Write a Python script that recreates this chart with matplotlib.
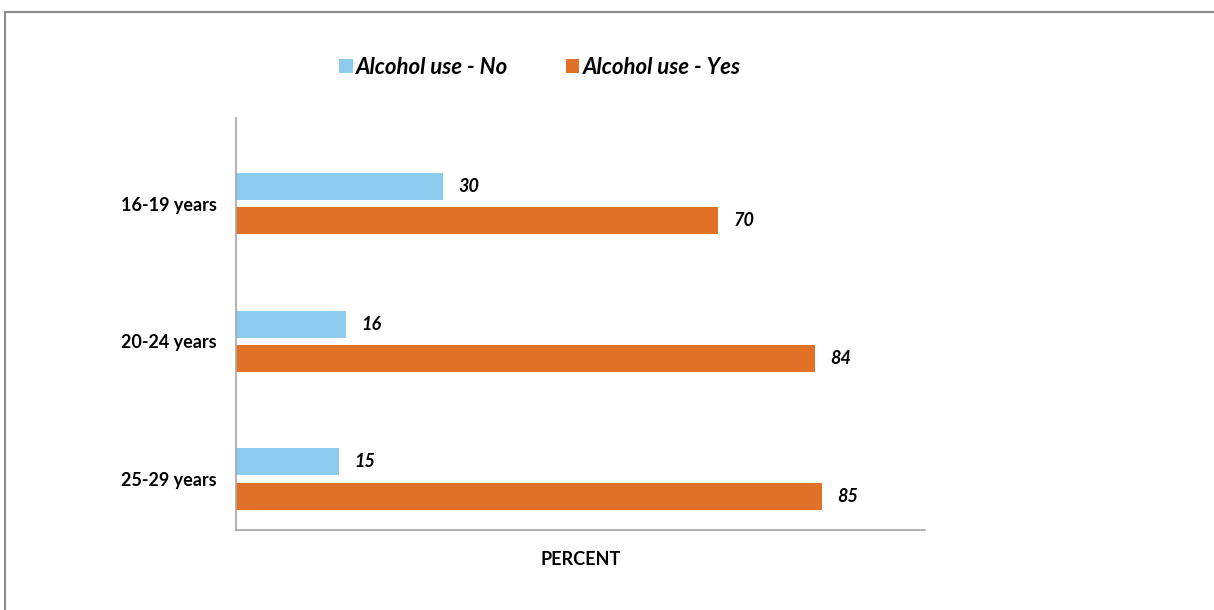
import matplotlib.pyplot as plt
from matplotlib.patches import Rectangle
import numpy as np

plt.rcParams['font.family'] = ['Lato', 'DejaVu Sans']

groups = ['16-19 years', '20-24 years', '25-29 years']
alcohol_no = [30, 16, 15]
alcohol_yes = [70, 84, 85]
series_names = ['Alcohol use - No', 'Alcohol use - Yes']

blue = '#8ECCEF'
orange = '#E07127'

fig = plt.figure(figsize=(12.14, 6.10), dpi=100)
W, H = 1214, 610

# outer chart border (right/bottom edges fall outside the picture)
fig.patches.append(Rectangle((5 / W, 0 - 0.01), 1.1, 1 - 12 / H + 0.01,
                             transform=fig.transFigure, fill=False,
                             edgecolor='#8c8c8c', linewidth=1.5))

ax = fig.add_axes([236 / W, 1 - 530 / H, (925 - 236) / W, (530 - 118) / H])

y = np.arange(len(groups))
h = 0.196
off = 0.124
b1 = ax.barh(y - off, alcohol_no, height=h, color=blue, label=series_names[0])
b2 = ax.barh(y + off, alcohol_yes, height=h, color=orange, label=series_names[1])

for bars, vals in [(b1, alcohol_no), (b2, alcohol_yes)]:
    for bar, v in zip(bars, vals):
        ax.text(v + 2.2, bar.get_y() + bar.get_height() / 2, str(v),
                va='center', ha='left', fontsize=13, fontweight='bold',
                fontstyle='italic')

ax.set_xlim(0, 100)
ax.set_ylim(2 + 51 / 137.5, -85.5 / 137.5)
ax.set_xticks([])
ax.set_yticks(y)
ax.set_yticklabels(groups, fontsize=13, fontweight='bold')
ax.tick_params(axis='y', length=0, pad=14)
for s in ['top', 'right']:
    ax.spines[s].set_visible(False)
for s in ['left', 'bottom']:
    ax.spines[s].set_color('#a6a6a6')
    ax.spines[s].set_linewidth(1.2)

ax.set_xlabel('PERCENT', fontsize=13, fontweight='bold', labelpad=15)

leg = fig.legend(handles=[b1, b2], labels=series_names, loc='center',
                 bbox_to_anchor=(540 / W, 1 - 67 / H), ncol=2, frameon=False,
                 prop={'size': 16, 'weight': 'bold', 'style': 'italic'},
                 handlelength=0.6, handleheight=0.6, handletextpad=0.15,
                 columnspacing=2.6)

fig.savefig('out.png', dpi=100)
